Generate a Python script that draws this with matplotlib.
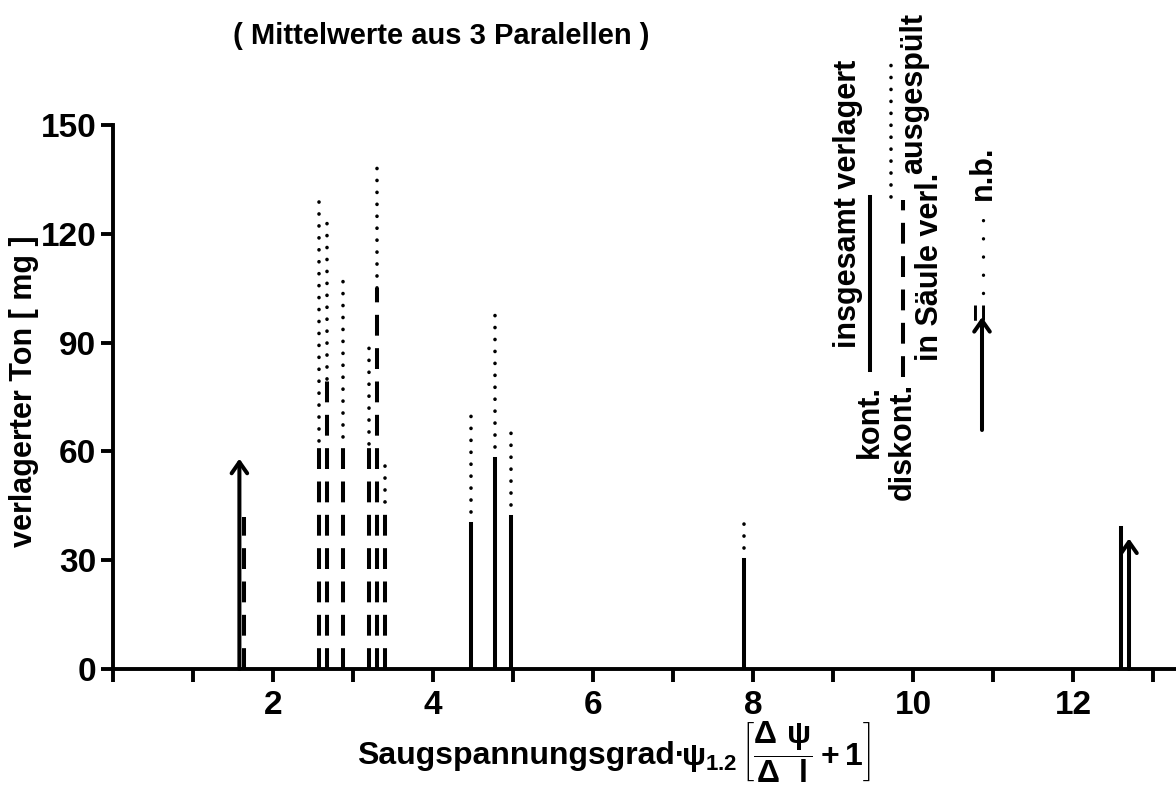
import matplotlib.pyplot as plt
from matplotlib.lines import Line2D
from matplotlib.ticker import FixedLocator, FixedFormatter

# -------------------------
# Daten (Mittelwerte aus 3 Parallelen)
# -------------------------
saugspannungsgrad = [1.58, 1.64, 2.58, 2.68, 2.87, 3.20, 3.30, 3.40,
                     4.48, 4.78, 4.98, 7.89, 12.60, 12.70]
in_saeule = [58, 42, 63, 80, 64, 62, 105, 46, 40, 58, 42, 30, 39, 36]   # in Saeule verlagert (mg)
insgesamt = [58, 42, 130, 124, 107, 91.5, 140, 57.5, 71, 99, 68, 43, 39, 36]  # insgesamt verlagert (mg)
betrieb = ['kont', 'diskont', 'diskont', 'diskont', 'diskont', 'diskont', 'diskont',
           'diskont', 'kont', 'kont', 'kont', 'kont', 'kont', 'kont']
nicht_bestimmt = [True, False, False, False, False, False, False, False,
                  False, False, False, False, False, True]

x_ticks = list(range(0, 14))
x_labels = ['', '', '2', '', '4', '', '6', '', '8', '', '10', '', '12', '']
y_ticks = [0, 30, 60, 90, 120, 150]

plt.rcParams['font.family'] = ['Liberation Sans', 'DejaVu Sans']
plt.rcParams['font.weight'] = 'bold'
plt.rcParams['axes.labelweight'] = 'bold'
plt.rcParams['mathtext.fontset'] = 'custom'
plt.rcParams['mathtext.rm'] = 'Liberation Sans:bold'
plt.rcParams['mathtext.it'] = 'Liberation Sans:bold'
plt.rcParams['mathtext.sf'] = 'Liberation Sans:bold'
plt.rcParams['mathtext.bf'] = 'Liberation Sans:bold'
plt.rcParams['lines.scale_dashes'] = False

W, H = 1176, 790
fig = plt.figure(figsize=(W / 100, H / 100), dpi=100)
ax = fig.add_axes([113 / W, 1 - 669 / H, 1 - 113 / W, 544 / H])

LW = 2.9
DASHED = (0, (15, 9))
DOTTED = (0, (0.1, 8.5))
ARROW = '->,head_length=0.4,head_width=0.28'

# -------------------------
# Balken: in Saeule verlagert (kont./diskont.) + ausgespuelt (punktiert)
# -------------------------
for x, lo, hi, b, nb in zip(saugspannungsgrad, in_saeule, insgesamt, betrieb, nicht_bestimmt):
    ls = '-' if b == 'kont' else DASHED
    if nb:
        ax.annotate('', xy=(x, lo), xytext=(x, 0),
                    arrowprops=dict(arrowstyle=ARROW, lw=LW, color='black',
                                    shrinkA=0, shrinkB=0, mutation_scale=20))
    else:
        ax.plot([x, x], [0, lo], color='black', lw=LW, ls=ls, dash_capstyle='butt')
    if hi > lo:
        ax.plot([x, x], [lo, hi], color='black', lw=2.6, ls=DOTTED,
                dash_capstyle='round')

ax.set_xlim(0, 1063 / 80)
ax.set_ylim(0, 150)
ax.xaxis.set_major_locator(FixedLocator(x_ticks))
ax.xaxis.set_major_formatter(FixedFormatter(x_labels))
ax.set_yticks(y_ticks)

for s in ['top', 'right']:
    ax.spines[s].set_visible(False)
for s in ['left', 'bottom']:
    ax.spines[s].set_linewidth(2.8)
ax.tick_params(direction='out', length=9, width=2.8, labelsize=24)
ax.tick_params(axis='x', pad=6)
ax.tick_params(axis='y', pad=3)

ax.set_ylabel('verlagerter Ton [ mg ]', fontsize=22)
ax.yaxis.set_label_coords(-0.07, 0.51)


# -------------------------
# Titel, Achsentitel x und Legende (Pixelpositionen der Vorlage)
# -------------------------
def fx(px):
    return px / W


def fy(py):
    return 1 - py / H


fig.text(fx(357), fy(764), 'Saugspannungsgrad·', fontsize=23, ha='left', va='baseline')
fig.text(fx(681), fy(766), r'$\psi_{1.2}\,\left[\dfrac{\Delta\ \psi}{\Delta\ \ l}+1\right]$',
         fontsize=23, ha='left', va='baseline')

fig.text(fx(441), fy(36), '( Mittelwerte aus 3 Paralellen )', fontsize=21,
         ha='center', va='center')

fig.text(fx(848), fy(204), 'insgesamt verlagert', rotation=90, fontsize=22,
         ha='center', va='center')
fig.text(fx(870), fy(422), 'kont.', rotation=90, fontsize=22, ha='center', va='center')
fig.text(fx(903), fy(441), 'diskont.', rotation=90, fontsize=22, ha='center', va='center')
fig.text(fx(930), fy(267), 'in Säule verl.', rotation=90, fontsize=22,
         ha='center', va='center')
fig.text(fx(914), fy(94), 'ausgespült', rotation=90, fontsize=22, ha='center', va='center')

fig.add_artist(Line2D([fx(870), fx(870)], [fy(370), fy(197)], color='black', lw=LW,
                      transform=fig.transFigure))
fig.add_artist(Line2D([fx(903), fx(903)], [fy(377), fy(200)], color='black', lw=LW,
                      ls=DASHED, transform=fig.transFigure))
fig.add_artist(Line2D([fx(891), fx(891)], [fy(197), fy(58)], color='black', lw=2.6,
                      ls=DOTTED, dash_capstyle='round', transform=fig.transFigure))

ax.annotate('', xy=(fx(982), fy(317)), xytext=(fx(982), fy(430)),
            xycoords='figure fraction', textcoords='figure fraction',
            arrowprops=dict(arrowstyle=ARROW, lw=LW, color='black',
                            shrinkA=0, shrinkB=0, mutation_scale=20))
fig.text(fx(983), fy(311), '=', rotation=90, fontsize=22, ha='center', va='center')
fig.add_artist(Line2D([fx(983), fx(983)], [fy(293), fy(217)], color='black', lw=2.4,
                      ls=(0, (0.1, 13)), dash_capstyle='round', transform=fig.transFigure))
fig.text(fx(983), fy(173), 'n.b.', rotation=90, fontsize=22, ha='center', va='center')

fig.savefig('out.png', dpi=100)
